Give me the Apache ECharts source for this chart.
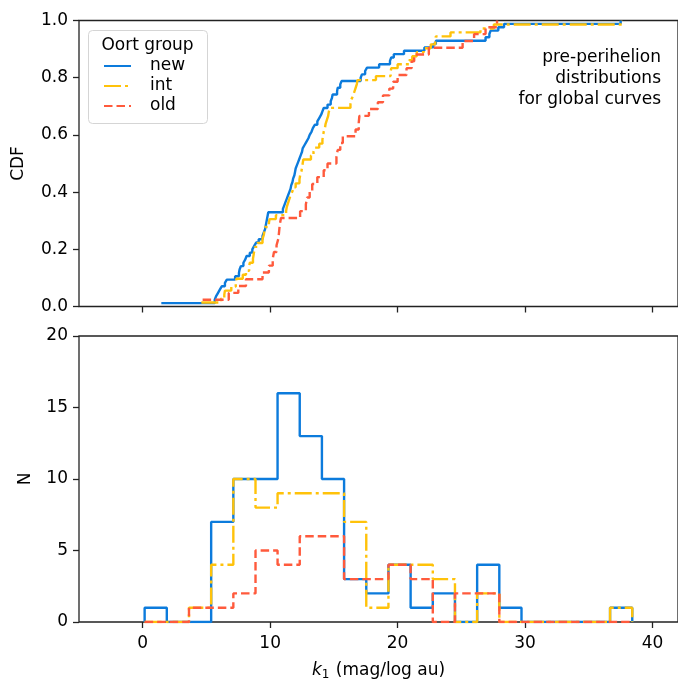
<!DOCTYPE html>
<html><head><meta charset="utf-8">
<script src="https://cdn.jsdelivr.net/npm/echarts@6/dist/echarts.min.js"></script>
<style>html,body{margin:0;padding:0;background:#fff}#c{width:678px;height:682px}</style>
</head><body><div id="c"></div>
<script>
// ---- data ----
const groupNames = ['new', 'int', 'old'];
const xTicks = [0, 10, 20, 30, 40];
const binEdges = [0.15, 1.89, 3.63, 5.37, 7.11, 8.85, 10.58, 12.32, 14.06, 15.80, 17.54, 19.28,
  21.02, 22.76, 24.50, 26.24, 27.98, 29.72, 31.46, 33.20, 34.93, 36.67, 38.41];
const histNew = [1, 0, 0, 7, 10, 10, 16, 13, 10, 3, 2, 4, 1, 2, 0, 4, 1, 0, 0, 0, 0, 1];
const histInt = [0, 0, 1, 4, 10, 8, 9, 9, 9, 7, 1, 4, 4, 3, 0, 2, 0, 0, 0, 0, 0, 1];
const histOld = [0, 0, 1, 1, 2, 5, 4, 6, 6, 3, 3, 4, 3, 0, 2, 2, 0, 0, 0, 0, 0, 0];
// sorted k1 values (pre-perihelion) per Oort group, read from the CDF steps
const k1New = [1.46, 5.65, 5.75, 5.9, 6.05, 6.2, 6.45, 6.6, 7.25, 7.55, 7.6, 7.7, 7.9, 8.05, 8.15, 8.4, 8.6, 8.75,
  8.9, 9.1, 9.4, 9.5, 9.6, 9.65, 9.7, 9.75, 9.8, 9.85,
  11.0, 11.1, 11.2, 11.3, 11.4, 11.5, 11.6, 11.65, 11.75, 11.8, 11.9, 11.95, 12.0, 12.1, 12.2, 12.3,
  12.4, 12.5, 12.55, 12.7, 12.85, 13.0, 13.1, 13.25, 13.35, 13.5, 13.7, 13.85, 14.0,
  14.1, 14.2, 14.5, 14.75, 14.85, 14.9, 15.25, 15.3, 15.5, 15.6,
  17.1, 17.2, 17.45, 17.6, 18.55, 19.4, 19.5, 19.7, 20.5, 22.1, 22.8, 23.0,
  26.9, 27.2, 27.3, 27.9, 28.35, 37.5];
const k1Int = [4.6, 6.15, 6.4, 6.45, 6.95, 7.3, 7.35, 7.85, 8.1, 8.35, 8.4, 8.65, 8.7, 8.75, 8.8,
  9.0, 9.4, 9.5, 9.55, 9.6, 9.9, 9.95, 10.45,
  11.25, 11.3, 11.4, 11.5, 11.6, 11.75, 11.8, 12.0, 12.3,
  12.35, 12.45, 12.5, 12.55, 12.6, 13.2, 13.4, 13.5, 13.85,
  14.1, 14.15, 14.2, 14.3, 14.35, 14.45, 14.55, 14.6, 14.7,
  16.3, 16.35, 16.5, 16.6, 16.7, 16.8, 16.85, 18.3, 19.45, 19.5, 20.0, 20.9,
  21.15, 21.5, 22.05, 22.6, 22.95, 23.0, 24.15, 26.5, 27.55, 37.6];
const k1Old = [4.7, 6.75, 7.5, 8.1, 9.4, 9.9, 10.2, 10.3, 10.5, 10.65, 10.7, 10.75, 10.85,
  12.35, 12.8, 12.9, 13.1, 13.3, 13.7, 14.2, 14.5, 15.2, 15.3, 15.5, 15.7,
  16.7, 16.95, 17.0, 17.75, 18.45, 18.85, 19.35, 19.65, 20.0, 20.7,
  21.1, 21.3, 22.45, 25.1, 26.0, 26.9, 27.8];

// ---- styles ----
const colors = ['#0C7BDC', '#FFC20A', '#FF5A3C'];
const dashes = ['solid', [17, 4, 3, 4], [8.5, 4]];
const LW = 2.4;
const FS = 17;
const TXT = '#000';

function ecdf(vals) {
  const n = vals.length;
  return vals.map((v, i) => [v, (i + 1) / n]);
}
function histSteps(counts) {
  const pts = [[binEdges[0], 0]];
  counts.forEach((c, i) => { pts.push([binEdges[i], c]); pts.push([binEdges[i + 1], c]); });
  pts.push([binEdges[binEdges.length - 1], 0]);
  return pts;
}

const cdfData = [k1New, k1Int, k1Old];
const histData = [histNew, histInt, histOld];
const series = [];
groupNames.forEach((g, i) => {
  series.push({
    name: g, type: 'line', xAxisIndex: 0, yAxisIndex: 0, data: ecdf(cdfData[i]),
    step: 'end', symbol: 'none', showSymbol: false, z: 2 + i, silent: true,
    lineStyle: { color: colors[i], width: LW, type: dashes[i] }, itemStyle: { color: colors[i] }
  });
});
groupNames.forEach((g, i) => {
  series.push({
    name: g, type: 'line', xAxisIndex: 1, yAxisIndex: 1, data: histSteps(histData[i]),
    symbol: 'none', showSymbol: false, z: 2 + i, silent: true,
    lineStyle: { color: colors[i], width: LW, type: dashes[i] }, itemStyle: { color: colors[i] }
  });
});

const axisTickStyle = { show: true, length: 6, lineStyle: { color: '#222', width: 1.3 } };
const noLine = { show: false, onZero: false };
const chart = echarts.init(document.getElementById('c'), null, { renderer: 'canvas' });
chart.setOption({
  animation: false,
  textStyle: { fontFamily: 'DejaVu Sans', color: TXT },
  grid: [
    { left: 79, top: 20.5, width: 600, height: 286, show: true, borderColor: '#222', borderWidth: 1.3, backgroundColor: 'transparent' },
    { left: 79, top: 336, width: 600, height: 286.5, show: true, borderColor: '#222', borderWidth: 1.3, backgroundColor: 'transparent' }
  ],
  xAxis: [
    { type: 'value', gridIndex: 0, min: -5, max: 42, position: 'bottom', axisLine: noLine, splitLine: { show: false },
      axisTick: Object.assign({ customValues: xTicks }, axisTickStyle), axisLabel: { show: false } },
    { type: 'value', gridIndex: 1, min: -5, max: 42, position: 'bottom', axisLine: noLine, splitLine: { show: false },
      axisTick: Object.assign({ customValues: xTicks }, axisTickStyle),
      axisLabel: { customValues: xTicks, fontSize: FS, color: TXT, margin: 13 },
      name: '{i|k}{s|1} (mag/log au)', nameLocation: 'middle', nameGap: 38,
      nameTextStyle: { fontSize: FS, color: TXT, verticalAlign: 'top',
        rich: { i: { fontStyle: 'italic', fontSize: FS, color: TXT, fontFamily: 'DejaVu Sans' },
                s: { fontSize: 12, color: TXT, padding: [9, 1, 0, 0], fontFamily: 'DejaVu Sans' } } } }
  ],
  yAxis: [
    { type: 'value', gridIndex: 0, min: 0, max: 1, interval: 0.2, position: 'left', axisLine: noLine, splitLine: { show: false },
      axisTick: axisTickStyle, axisLabel: { fontSize: FS, color: TXT, margin: 11, formatter: v => v.toFixed(1) },
      name: 'CDF', nameLocation: 'middle', nameGap: 52, nameTextStyle: { fontSize: FS, color: TXT } },
    { type: 'value', gridIndex: 1, min: 0, max: 20, interval: 5, position: 'left', axisLine: noLine, splitLine: { show: false },
      axisTick: axisTickStyle, axisLabel: { fontSize: FS, color: TXT, margin: 11 },
      name: 'N', nameLocation: 'middle', nameGap: 45, nameTextStyle: { fontSize: FS, color: TXT } }
  ],
  legend: {
    data: groupNames, orient: 'vertical', left: 103, top: 56, itemWidth: 27, itemHeight: 14, itemGap: 0,
    padding: 0, selectedMode: false, itemStyle: { opacity: 0 },
    textStyle: { fontSize: FS, color: TXT, lineHeight: 20, padding: [0, 0, 0, 14] }
  },
  graphic: [
    { type: 'rect', z: 1, shape: { x: 88.5, y: 30.5, width: 119, height: 93, r: 4 },
      style: { fill: 'rgba(255,255,255,0.8)', stroke: '#d5d5d5', lineWidth: 1 } },
    { type: 'text', z: 10, style: { text: 'Oort group', x: 147.5, y: 46, align: 'center', verticalAlign: 'middle',
      fontSize: FS, fontFamily: 'DejaVu Sans', fill: TXT } },
    { type: 'text', z: 10, style: { text: 'pre-perihelion\ndistributions\nfor global curves', x: 661, y: 47,
      align: 'right', verticalAlign: 'top', lineHeight: 21, fontSize: FS, fontFamily: 'DejaVu Sans', fill: TXT } }
  ],
  series: series
});
</script>
</body></html>
